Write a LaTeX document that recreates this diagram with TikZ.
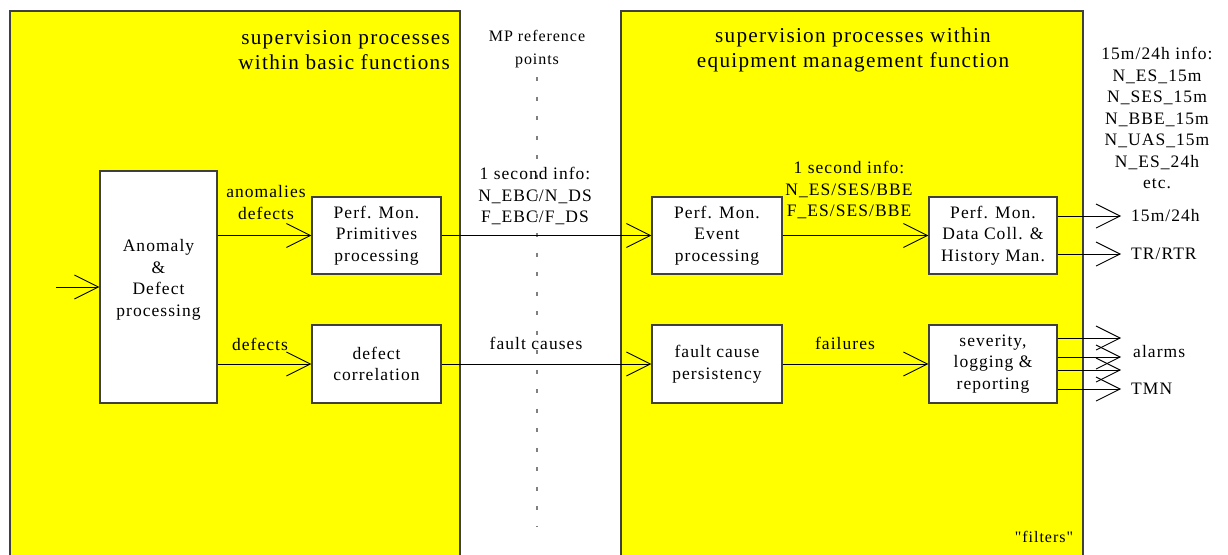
\documentclass[tikz,border=0pt]{standalone}
\usepackage{fontspec}
\setmainfont{Liberation Serif}[LetterSpace=6]
\newfontfamily\plainquotes{Liberation Serif}[LetterSpace=6]
\usetikzlibrary{arrows.meta}
\definecolor{zoneyellow}{HTML}{FFFF00}
\definecolor{edgegray}{HTML}{404040}
\begin{document}
\begin{tikzpicture}[x=1pt,y=-1pt,
  zone/.style={fill=zoneyellow,draw=none},
  zoneedge/.style={draw=edgegray,line width=1.4pt},
  procbox/.style={draw=edgegray,fill=white,line width=1.2pt,inner sep=0pt,align=center,
    font=\fontsize{17.5}{21.5}\selectfont},
  lbl/.style={inner sep=0pt,align=center,font=\fontsize{17.5}{21.5}\selectfont},
  title/.style={inner sep=0pt,font=\fontsize{21.2}{25}\selectfont},
  small/.style={inner sep=0pt,align=center,font=\fontsize{16}{23}\selectfont},
  flow/.style={draw=black,line width=0.9pt,-{Straight Barb[length=24pt,width=24pt,line width=0.9pt]}},
  refline/.style={draw=gray,line width=1.3pt,dash pattern=on 4pt off 15.5pt}
]
\useasboundingbox (0,0) rectangle (1228,554);
% zones
\fill[zone] (10,11) rectangle (460,556);
\draw[zoneedge] (10,556) -- (10,11) -- (460,11) -- (460,556);
\fill[zone] (621,11) rectangle (1083,556);
\draw[zoneedge] (621,556) -- (621,11) -- (1083,11) -- (1083,556);
% reference points line
\coordinate (rtop) at (537,77);
\coordinate (rbot) at (537,527);
\draw[refline] (rtop) -- (rbot);
% titles
\node[title,anchor=east,align=right] (t1) at (450,50) {supervision processes\\within basic functions};
\node[title,align=center] (t2) at (853,50) {supervision processes within\\equipment management function};
\node[small] (mp) at (537,49) {MP reference\\points};
\node[lbl] (info) at (1157,118) {15m/24h info:\\N\_ES\_15m\\N\_SES\_15m\\N\_BBE\_15m\\N\_UAS\_15m\\N\_ES\_24h\\etc.};
\node[small,font=\plainquotes\fontsize{16}{19}\selectfont] (filt) at (1044,537) {"filters"};
% boxes
\node[procbox,minimum width=117pt,minimum height=232pt] (anom) at (158.5,287) {};
\node[lbl] (anomtxt) at (158.5,280) {Anomaly\\\&\\Defect\\processing};
\node[procbox,minimum width=129pt,minimum height=77pt] (prim) at (376.5,235.5) {Perf. Mon.\\Primitives\\processing};
\node[procbox,minimum width=129pt,minimum height=78pt] (dcor) at (376.5,364) {defect\\correlation};
\node[procbox,minimum width=130pt,minimum height=77pt] (evt) at (717,235.5) {Perf. Mon.\\Event\\processing};
\node[procbox,minimum width=130pt,minimum height=78pt] (fcp) at (717,364) {fault cause\\persistency};
\node[procbox,minimum width=128pt,minimum height=77pt] (dc) at (993,235.5) {Perf. Mon.\\Data Coll. \&\\History Man.};
\node[procbox,minimum width=128pt,minimum height=78pt] (sev) at (993,364) {severity,\\logging \&\\reporting};
% connector labels
\node[lbl] (l1) at (266,202.5) {anomalies\\defects};
\node[lbl] (l2) at (260,344) {defects};
\node[lbl] (l3) at (535,196) {1 second info:\\N\_EBC/N\_DS\\F\_EBC/F\_DS};
\node[lbl] (l4) at (536,343) {fault causes};
\node[lbl] (l5) at (849,190) {1 second info:\\N\_ES/SES/BBE\\F\_ES/SES/BBE};
\node[lbl] (l6) at (845,343) {failures};
% input
\coordinate (in) at (56,287);
\draw[flow] (in) -- (anom.west |- in);
% main flows
\draw[flow] (anom.east |- prim.west) -- (prim.west);
\draw[flow] (anom.east |- dcor.west) -- (dcor.west);
\draw[flow] (prim.east) -- (evt.west);
\draw[flow] (dcor.east) -- (fcp.west);
\draw[flow] (evt.east) -- (dc.west);
\draw[flow] (fcp.east) -- (sev.west);
% outputs
\coordinate (o1) at (1121,216);
\coordinate (o2) at (1121,254);
\coordinate (o3) at (1121,338);
\coordinate (o4) at (1121,357);
\coordinate (o5) at (1121,370);
\coordinate (o6) at (1121,389);
\draw[flow] (dc.east |- o1) -- (o1);
\draw[flow] (dc.east |- o2) -- (o2);
\draw[flow] (sev.east |- o3) -- (o3);
\draw[flow] (sev.east |- o4) -- (o4);
\draw[flow] (sev.east |- o5) -- (o5);
\draw[flow] (sev.east |- o6) -- (o6);
\node[lbl,anchor=west] (ol1) at (1131,216) {15m/24h};
\node[lbl,anchor=west] (ol2) at (1131,254) {TR/RTR};
\node[lbl,anchor=west] (ol3) at (1133,352) {alarms};
\node[lbl,anchor=west] (ol4) at (1131,389) {TMN};
\end{tikzpicture}
\end{document}
